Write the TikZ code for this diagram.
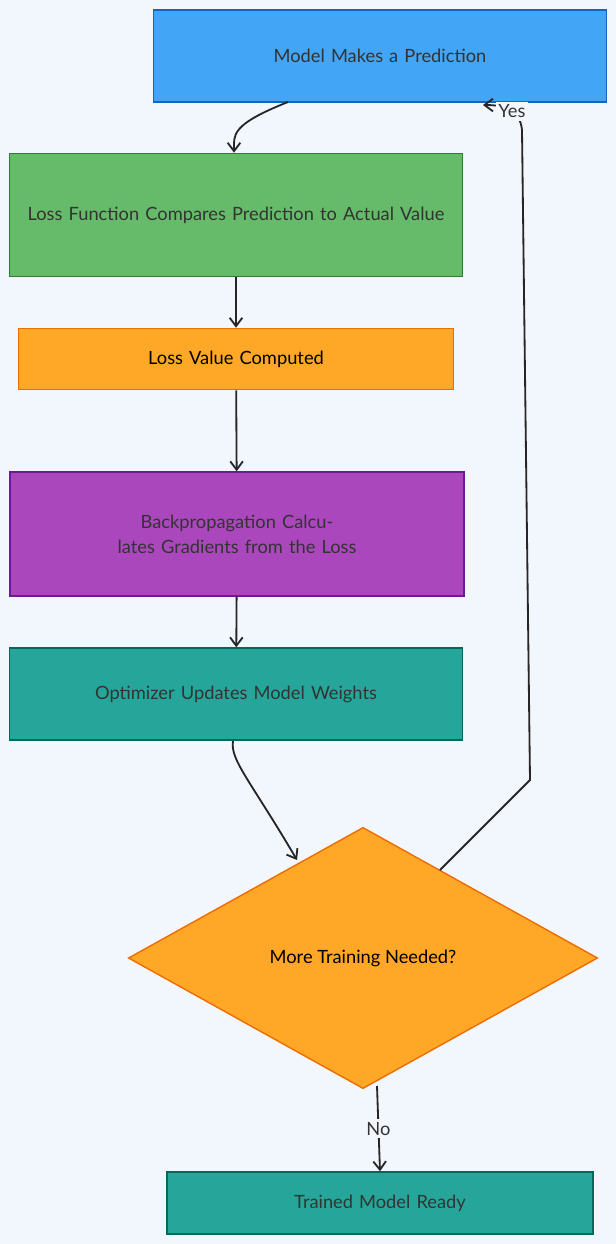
\documentclass[tikz,border=0pt]{standalone}
\usepackage{fontspec}
\setmainfont{Lato}
\usetikzlibrary{shapes.geometric, arrows.meta}
\definecolor{bgc}{HTML}{F2F7FD}
\definecolor{blueF}{HTML}{42A5F5}\definecolor{blueD}{HTML}{1565C0}
\definecolor{greenF}{HTML}{66BB6A}\definecolor{greenD}{HTML}{2E7D32}
\definecolor{orangeF}{HTML}{FFA726}\definecolor{orangeD}{HTML}{EF6C00}
\definecolor{purpF}{HTML}{AB47BC}\definecolor{purpD}{HTML}{6A1B9A}
\definecolor{tealF}{HTML}{26A69A}\definecolor{tealD}{HTML}{00695C}
\definecolor{txt}{HTML}{333333}
\begin{document}
\begin{tikzpicture}[x=0.025cm, y=-0.025cm,
stepbox/.style={rectangle, draw, line width=1pt, align=center, text width=10.6cm, inner sep=0pt, font=\fontsize{13}{18}\selectfont, text=txt},
link/.style={line width=1.3pt, draw=black!85, -{Straight Barb[length=6pt, width=9pt]}},
lbl/.style={fill=bgc, font=\fontsize{13}{16}\selectfont, text=txt, inner sep=2pt},
]
\fill[bgc] (0,0) rectangle (616,1244);
\useasboundingbox (0,0) rectangle (616,1244);

\node[stepbox, fill=blueF, draw=blueD, minimum width=11.33cm, minimum height=2.3cm] (pred) at (380,56) {Model Makes a Prediction};
\node[stepbox, fill=greenF, draw=greenD, minimum width=11.33cm, minimum height=3.08cm] (lossfn) at (236,215) {Loss Function Compares Prediction to Actual Value};
\node[stepbox, fill=orangeF, draw=orangeD, minimum width=10.88cm, minimum height=1.53cm, text=black] (lossval) at (236,359) {Loss Value Computed};
\node[stepbox, fill=purpF, draw=purpD, minimum width=11.35cm, minimum height=3.1cm] (backprop) at (237,534) {Backpropagation Calculates Gradients from the Loss};
\node[stepbox, fill=tealF, draw=tealD, minimum width=11.33cm, minimum height=2.3cm] (optim) at (236,694) {Optimizer Updates Model Weights};
\node[diamond, draw=orangeD, fill=orangeF, line width=1pt, minimum width=11.73cm, minimum height=6.53cm, inner sep=0pt, font=\fontsize{13}{18}\selectfont] (more) at (363,958) {More Training Needed?};
\node[stepbox, fill=tealF, draw=tealD, minimum width=10.65cm, minimum height=1.55cm] (ready) at (380,1203) {Trained Model Ready};

% free ends
\coordinate (p1) at (288,102);
\coordinate (o1) at (233,741);
\coordinate (m1) at (297,860);
\coordinate (y1) at (440,870);
\coordinate (y2) at (483,105);
\coordinate (n1) at (377,1086);

\draw[link] (p1) .. controls (230,125) and (234,135) .. (lossfn.north -| 234,0);
\draw[link] (lossfn) -- (lossval);
\draw[link] (lossval) -- (backprop);
\draw[link] (backprop) -- (optim);
\draw[link] (o1) .. controls (230,760) and (250,780) .. (m1);
\draw[link] (y1) -- (530,780) -- (522,130) .. controls (520,110) and (505,105) .. (y2)
  node[lbl, pos=0.45] {Yes};
\draw[link] (n1) -- (ready.north -| 380,0) node[lbl, midway] {No};
\end{tikzpicture}
\end{document}
